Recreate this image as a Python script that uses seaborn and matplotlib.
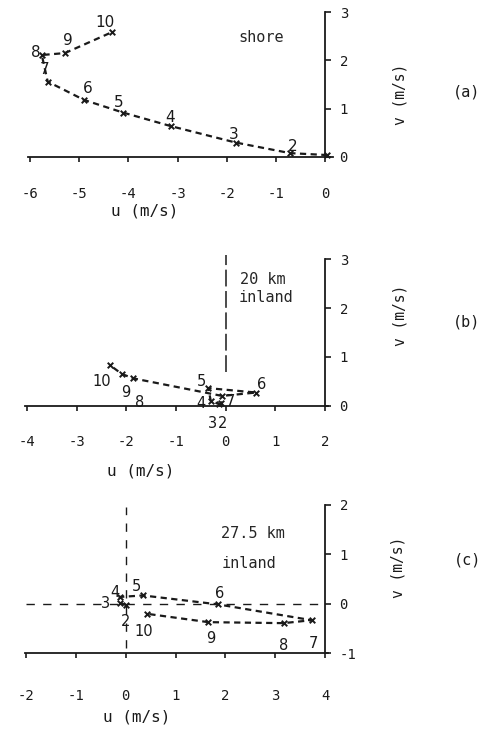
import matplotlib
matplotlib.use("Agg")
import matplotlib.pyplot as plt
import seaborn as sns

sns.set_theme(style="white")
plt.rcParams["font.family"] = ["DejaVu Sans Mono", "DejaVu Sans"]
plt.rcParams["axes.unicode_minus"] = False

# ---------------- data (hodographs, hours 1..10) ----------------
# (a) shore
u_a = [0.05, -0.71, -1.82, -3.14, -4.11, -4.90, -5.64, -5.76, -5.29, -4.34]
v_a = [0.04, 0.08, 0.30, 0.64, 0.92, 1.18, 1.56, 2.11, 2.15, 2.58]
lab_a = ["", "2", "3", "4", "5", "6", "7", "8", "9", "10"]

# (b) 20 km inland
u_b = [-0.09, -0.13, -0.30, -0.35, 0.61, -0.07, -1.86, -2.09, -2.33]
v_b = [0.05, 0.03, 0.10, 0.36, 0.27, 0.20, 0.56, 0.65, 0.83]
lab_b = ["2", "3", "4", "5", "6", "7", "8", "9", "10"]

# (c) 27.5 km inland
u_c = [0.00, -0.12, -0.12, 0.35, 1.85, 3.73, 3.17, 1.66, 0.42]
v_c = [-0.02, 0.02, 0.14, 0.17, -0.01, -0.33, -0.39, -0.37, -0.20]
lab_c = ["2", "3", "4", "5", "6", "7", "8", "9", "10"]

xticks_a = [-6, -5, -4, -3, -2, -1, 0]
yticks_a = [0, 1, 2, 3]
xticks_b = [-4, -3, -2, -1, 0, 1, 2]
yticks_b = [0, 1, 2, 3]
xticks_c = [-2, -1, 0, 1, 2, 3, 4]
yticks_c = [-1, 0, 1, 2]

# ---------------- label offsets (pixels, screen: +x right, +y down) ----------------
off_a = [(0, 0), (3, -7), (-2, -8), (-1, -9), (-4, -10), (4, -11), (-3, -12), (-6, -3), (3, -13), (-7, -10)]
off_b = [(1, 20), (-7, 19), (-10, 3), (-7, -7), (6, -8), (8, 6), (6, 24), (4, 19), (-8, 16)]
off_c = [(0, 17), (-14, 1), (-5, -4), (-7, -9), (2, -11), (2, 23), (0, 22), (2, 16), (-3, 18)]

W, H = 486, 737
fig = plt.figure(figsize=(W / 100, H / 100), dpi=100)


def rect(ux, vy, xlim, ylim):
    (u0, p0), (u1, p1) = ux
    (v0, q0), (v1, q1) = vy
    sx = (p1 - p0) / (u1 - u0)
    sy = (q1 - q0) / (v1 - v0)
    left = p0 + (xlim[0] - u0) * sx
    right = p0 + (xlim[1] - u0) * sx
    bottom = q0 + (ylim[0] - v0) * sy
    top = q0 + (ylim[1] - v0) * sy
    return [left / W, 1 - bottom / H, (right - left) / W, (bottom - top) / H]


panels = [
    dict(u=u_a, v=v_a, lab=lab_a, off=off_a, xt=xticks_a, yt=yticks_a,
         ux=((-6, 30), (0, 325)), vy=((0, 157), (3, 12)),
         xlim=(-6.4, 0.6), ylim=(-0.3, 3.3), xb=(-6.05, 0.16), ybnd=(0, 3),
         x0=0, y0=0, xpad=17.5, xlabel=(145, 203), ylabel=(400, 94),
         tag="(a)", tagpos=(467, 92), lfs=11),
    dict(u=u_b, v=v_b, lab=lab_b, off=off_b, xt=xticks_b, yt=yticks_b,
         ux=((-4, 27), (2, 325)), vy=((0, 405.7), (3, 259.3)),
         xlim=(-4.4, 2.6), ylim=(-0.3, 3.3), xb=(-4.04, 2.06), ybnd=(0, 3),
         x0=2, y0=0, xpad=17.5, xlabel=(141, 463), ylabel=(400, 315),
         tag="(b)", tagpos=(467, 322), lfs=10.5),
    dict(u=u_c, v=v_c, lab=lab_c, off=off_c, xt=xticks_c, yt=yticks_c,
         ux=((-2, 26), (4, 325)), vy=((-1, 653.3), (2, 505)),
         xlim=(-2.4, 4.6), ylim=(-1.3, 2.3), xb=(-2.02, 4.06), ybnd=(-1, 2),
         x0=4, y0=-1, xpad=22, xlabel=(137, 710), ylabel=(398, 567),
         tag="(c)", tagpos=(468, 560), lfs=10.5),
]

axes = []
for p in panels:
    ax = fig.add_axes(rect(p["ux"], p["vy"], p["xlim"], p["ylim"]))
    axes.append(ax)
    ax.set_facecolor("none")
    ax.set_xlim(*p["xlim"])
    ax.set_ylim(*p["ylim"])

    sns.lineplot(x=p["u"], y=p["v"], sort=False, estimator=None, ax=ax,
                 color="k", lw=1.6, linestyle=(0, (2.8, 2.0)))
    sns.scatterplot(x=p["u"], y=p["v"], ax=ax, marker="x", color="k",
                    s=16, linewidth=1.4, zorder=3)
    for ui, vi, li, (dx, dy) in zip(p["u"], p["v"], p["lab"], p["off"]):
        if li:
            ax.annotate(li, (ui, vi), xytext=(dx * 0.72, -dy * 0.72),
                        textcoords="offset points", ha="center", va="center",
                        fontsize=p["lfs"], family="DejaVu Sans", color="k")

    for s in ("left", "top"):
        ax.spines[s].set_visible(False)
    ax.spines["bottom"].set_position(("data", p["y0"]))
    ax.spines["right"].set_position(("data", p["x0"]))
    ax.spines["bottom"].set_bounds(*p["xb"])
    ax.spines["right"].set_bounds(*p["ybnd"])
    for s in ("bottom", "right"):
        ax.spines[s].set_color("k")
        ax.spines[s].set_linewidth(1.3)
    ax.yaxis.tick_right()
    ax.set_xticks(p["xt"])
    ax.set_yticks(p["yt"])
    ax.tick_params(axis="x", direction="out", length=3.8, width=1.2,
                   pad=p["xpad"], labelsize=10, colors="k", bottom=True)
    ax.tick_params(axis="y", direction="out", length=4.5, width=1.2,
                   pad=6, labelsize=10, colors="k", right=True, left=False)

    ax.set_xlabel("u (m/s)", fontsize=11.5, color="k")
    ax.xaxis.set_label_coords(p["xlabel"][0] / W, 1 - p["xlabel"][1] / H,
                              transform=fig.transFigure)
    ax.yaxis.set_label_position("right")
    ax.set_ylabel("v (m/s)", fontsize=10.5, color="k", rotation=90)
    ax.yaxis.set_label_coords(p["ylabel"][0] / W, 1 - p["ylabel"][1] / H,
                              transform=fig.transFigure)
    ax.yaxis.label.set_va("center")
    ax.yaxis.label.set_ha("center")

    fig.text(p["tagpos"][0] / W, 1 - p["tagpos"][1] / H, p["tag"],
             ha="center", va="center", fontsize=11, color="k")

ax_a, ax_b, ax_c = axes

# annotations
ax_a.text(-1.29, 2.48, "shore", ha="center", va="center", fontsize=11)
ax_b.text(0.29, 2.59, "20 km", ha="left", va="center", fontsize=11)
ax_b.text(0.26, 2.22, "inland", ha="left", va="center", fontsize=11)
ax_c.text(1.91, 1.43, "27.5 km", ha="left", va="center", fontsize=11)
ax_c.text(1.93, 0.82, "inland", ha="left", va="center", fontsize=11)

# reference axes through origin
ref_b_v = (0.70, 3.08)
ax_b.plot([0, 0], list(ref_b_v), color="k", lw=1.1, linestyle=(0, (11, 3)))
ref_c_v = (-0.9, 1.95)
ref_c_u = (-2.0, 3.9)
ax_c.plot([0, 0], list(ref_c_v), color="k", lw=1.0, linestyle=(0, (6, 6)))
ax_c.plot(list(ref_c_u), [0, 0], color="k", lw=1.0, linestyle=(0, (6, 6)))

fig.savefig("out.png", dpi=100)
